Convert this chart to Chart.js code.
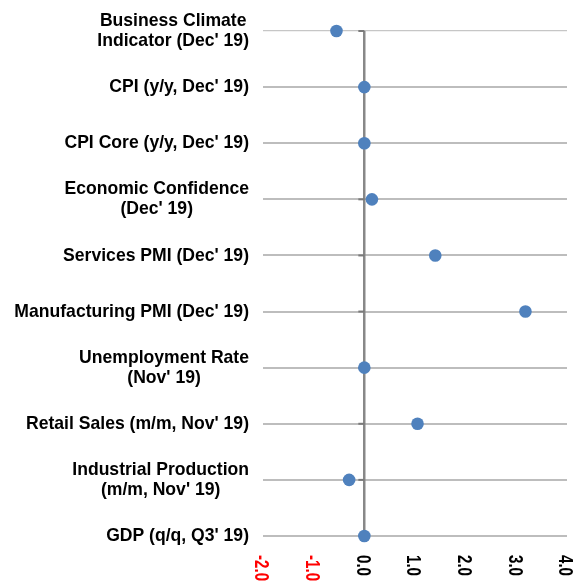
<!DOCTYPE html>
<html>
<head>
<meta charset="utf-8">
<script src="https://cdn.jsdelivr.net/npm/chart.js@4"></script>
<style>
  html, body { margin: 0; padding: 0; background: #fff; }
  #wrap { width: 586px; height: 587px; position: relative; }
</style>
</head>
<body>
<div id="wrap"><canvas id="surpriseChart"></canvas></div>
<script>
// Indicator names (multi-line where the original wraps)
const indicators = [
    ['Business Climate', "Indicator (Dec' 19)"],
    ["CPI (y/y, Dec' 19)"],
    ["CPI Core (y/y, Dec' 19)"],
    ['Economic Confidence', "(Dec' 19)"],
    ["Services PMI (Dec' 19)"],
    ["Manufacturing PMI (Dec' 19)"],
    ['Unemployment Rate', "(Nov' 19)"],
    ["Retail Sales (m/m, Nov' 19)"],
    ['Industrial Production', "(m/m, Nov' 19)"],
    ["GDP (q/q, Q3' 19)"]
];

// Surprise values
const surprise = [-0.55, 0.0, 0.0, 0.15, 1.4, 3.18, 0.0, 1.05, -0.3, 0.0];

// x axis ticks
const xTicks = [-2, -1, 0, 1, 2, 3, 4];

const labelFont = 'bold 18.5px "Liberation Sans", Arial, sans-serif';

// draws the category labels (lines centred, block right aligned),
// the rotated x tick labels and the small tick marks on the zero axis
const customAxes = {
    id: 'customAxes',
    beforeDatasetsDraw(chart) {
        const ctx = chart.ctx;
        const x = chart.scales.x;
        const y = chart.scales.y;
        const x0 = x.getPixelForValue(0);
        ctx.save();
        ctx.strokeStyle = '#7a7a7a';
        ctx.lineWidth = 2;
        indicators.forEach((lab, i) => {
            const py = y.getPixelForValue(i);
            ctx.beginPath();
            ctx.moveTo(x0 - 6, py);
            ctx.lineTo(x0, py);
            ctx.stroke();
        });
        ctx.restore();
    },
    afterDraw(chart) {
        const ctx = chart.ctx;
        const x = chart.scales.x;
        const y = chart.scales.y;
        const area = chart.chartArea;
        ctx.save();
        ctx.font = labelFont;
        ctx.fillStyle = '#000';
        ctx.textBaseline = 'middle';
        ctx.textAlign = 'center';
        const sx = 0.95;
        const rightEdge = area.left - 14;
        const lineH = 20;
        indicators.forEach((lines, i) => {
            const py = y.getPixelForValue(i);
            const widest = Math.max(...lines.map(l => ctx.measureText(l).width)) * sx;
            const cx = rightEdge - widest / 2;
            lines.forEach((l, j) => {
                const ly = py + (j - (lines.length - 1) / 2) * lineH;
                ctx.save();
                ctx.translate(cx, ly);
                ctx.scale(sx, 1);
                ctx.fillText(l, 0, 0);
                ctx.restore();
            });
        });

        // x ticks, rotated clockwise, reading top to bottom
        const fs = 21;
        ctx.font = 'bold ' + fs + 'px "Liberation Sans", Arial, sans-serif';
        ctx.textAlign = 'left';
        ctx.textBaseline = 'alphabetic';
        xTicks.forEach(v => {
            const px = x.getPixelForValue(v);
            ctx.save();
            ctx.translate(px, area.bottom + 19);
            ctx.rotate(Math.PI / 2);
            ctx.scale(0.72, 1);
            ctx.fillStyle = v < 0 ? '#ff0000' : '#000000';
            ctx.fillText(v.toFixed(1), 0, 0.36 * fs);
            ctx.restore();
        });
        ctx.restore();
    }
};

const ctx = document.getElementById('surpriseChart').getContext('2d');

const surpriseChart = new Chart(ctx, {
    type: 'line',
    data: {
        labels: indicators,
        datasets: [{
            data: surprise,
            showLine: false,
            pointRadius: 6.3,
            pointHoverRadius: 6.3,
            pointBackgroundColor: '#4f81bd',
            pointBorderColor: '#4f81bd',
            pointBorderWidth: 0,
            clip: false
        }]
    },
    options: {
        indexAxis: 'y',
        responsive: true,
        maintainAspectRatio: false,
        animation: false,
        layout: {
            autoPadding: false,
            padding: { left: 263, right: 19, top: 31, bottom: 51 }
        },
        plugins: {
            legend: { display: false },
            tooltip: { enabled: false }
        },
        scales: {
            x: {
                type: 'linear',
                min: -2,
                max: 4,
                ticks: { display: false, stepSize: 1 },
                border: { display: false },
                grid: {
                    z: -0.5,
                    drawTicks: false,
                    lineWidth: 2.5,
                    color: c => (c.tick && c.tick.value === 0) ? '#888888' : 'rgba(0,0,0,0)'
                }
            },
            y: {
                type: 'category',
                offset: false,
                ticks: { display: false },
                border: { display: false },
                grid: {
                    offset: false,
                    drawTicks: false,
                    lineWidth: c => c.index === 0 ? 1.2 : 2,
                    color: c => c.index === 0 ? '#c6c6c6' : '#bdbdbd'
                }
            }
        }
    },
    plugins: [customAxes]
});
</script>
</body>
</html>
